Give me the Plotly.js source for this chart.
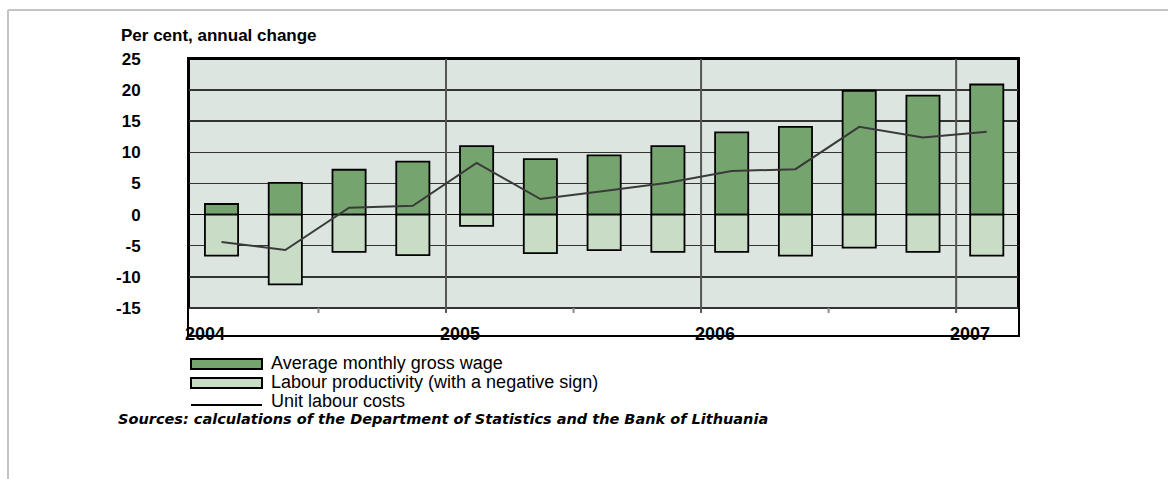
<!DOCTYPE html>
<html>
<head>
<meta charset="utf-8">
<script src="https://cdn.plot.ly/plotly-3.0.1.min.js"></script>
<style>
  html, body { margin: 0; padding: 0; background: #fff; }
  #plot { width: 1168px; height: 479px; }
</style>
</head>
<body>
<div id="plot"></div>
<script>
// quarterly data, 2004 Q1 - 2007 Q1
const quarters = ['2004 Q1', '2004 Q2', '2004 Q3', '2004 Q4',
                  '2005 Q1', '2005 Q2', '2005 Q3', '2005 Q4',
                  '2006 Q1', '2006 Q2', '2006 Q3', '2006 Q4',
                  '2007 Q1'];
const wage = [1.7, 5.1, 7.2, 8.5, 11.0, 8.9, 9.5, 11.0, 13.2, 14.1, 19.9, 19.1, 20.9];
const productivity = [-6.6, -11.2, -6.0, -6.5, -1.8, -6.2, -5.7, -6.0, -6.0, -6.6, -5.3, -6.0, -6.6];
const unitLabourCosts = [-4.4, -5.7, 1.1, 1.4, 8.3, 2.5, 3.8, 5.1, 7.0, 7.3, 14.1, 12.4, 13.3];

const years = ['2004', '2005', '2006', '2007'];
const yTicks = [-15, -10, -5, 0, 5, 10, 15, 20, 25];
const legendNames = ['Average monthly gross wage',
                     'Labour productivity (with a negative sign)',
                     'Unit labour costs'];

const darkGreen = '#76a46e';
const lightGreen = '#c9dcc5';
const font = 'Liberation Sans, Arial, sans-serif';

// bar positions: quarter index, centred in each quarter
const xPos = quarters.map((q, i) => i + 0.48);

// plot area in pixels (for placing the hand drawn legend)
const L = 189, R = 150, T = 59, B = 144, W = 1168, H = 479;
const pw = W - L - R, ph = H - T - B;
const px = p => (p - L) / pw;
const py = p => (H - B - p) / ph;

const traces = [
  {
    x: xPos, y: wage, type: 'bar', name: legendNames[0],
    marker: { color: darkGreen, line: { color: '#000', width: 1.8 } },
    hoverinfo: 'y'
  },
  {
    x: xPos, y: productivity, type: 'bar', name: legendNames[1],
    marker: { color: lightGreen, line: { color: '#000', width: 1.8 } },
    hoverinfo: 'y'
  },
  {
    x: xPos, y: unitLabourCosts, type: 'scatter', mode: 'lines', name: legendNames[2],
    line: { color: '#3a3a3a', width: 2 }
  }
];

const shapes = [
  // shaded plot region
  { type: 'rect', xref: 'paper', yref: 'y', x0: 0, x1: 1, y0: -15, y1: 25,
    fillcolor: '#dde5e0', line: { color: '#000', width: 2 }, layer: 'below' },
  // outer frame of the picture
  { type: 'line', xref: 'paper', yref: 'paper', x0: px(8), x1: px(1168), y0: py(10), y1: py(10),
    line: { color: '#c4c4c4', width: 2 } },
  { type: 'line', xref: 'paper', yref: 'paper', x0: px(8), x1: px(8), y0: py(10), y1: py(479),
    line: { color: '#c4c4c4', width: 2 } }
];

// year separators and half-year ticks
years.forEach((y, i) => {
  if (i > 0) {
    shapes.push({ type: 'line', xref: 'x', yref: 'y', x0: i * 4, x1: i * 4, y0: -15.8, y1: 25,
      line: { color: '#555', width: 2 }, layer: 'between' });
  }
  if (i < years.length - 1) {
    shapes.push({ type: 'line', xref: 'x', yref: 'y', x0: i * 4 + 2, x1: i * 4 + 2, y0: -15.8, y1: -15,
      line: { color: '#888', width: 2 } });
  }
});

// legend swatches
const rowY = [363, 382, 401];
shapes.push({ type: 'rect', xref: 'paper', yref: 'paper', x0: px(191), x1: px(262), y0: py(359), y1: py(369),
  fillcolor: darkGreen, line: { color: '#000', width: 2 } });
shapes.push({ type: 'rect', xref: 'paper', yref: 'paper', x0: px(191), x1: px(262), y0: py(378), y1: py(388),
  fillcolor: lightGreen, line: { color: '#000', width: 2 } });
shapes.push({ type: 'line', xref: 'paper', yref: 'paper', x0: px(191), x1: px(262), y0: py(405), y1: py(405),
  line: { color: '#000', width: 2 } });

const annotations = [
  { text: '<b>Per cent, annual change</b>', xref: 'paper', yref: 'paper', x: px(119), y: py(35),
    xanchor: 'left', yanchor: 'middle', showarrow: false, font: { size: 17, color: '#000' } },
  { text: '<b><i>Sources: calculations of the Department of Statistics and the Bank of Lithuania</i></b>',
    xref: 'paper', yref: 'paper', x: px(116), y: py(419),
    xanchor: 'left', yanchor: 'middle', showarrow: false,
    font: { family: 'DejaVu Sans, sans-serif', size: 14.5, color: '#000' } }
];

legendNames.forEach((n, i) => {
  annotations.push({ text: n, xref: 'paper', yref: 'paper', x: px(269), y: py(rowY[i]),
    xanchor: 'left', yanchor: 'middle', showarrow: false, font: { size: 18, color: '#000' } });
});

years.forEach((y, i) => {
  annotations.push({ text: '<b>' + y + '</b>', xref: 'x', yref: 'paper', x: i * 4, y: 0,
    xshift: 14, yshift: 1, xanchor: 'center', yanchor: 'middle', showarrow: false,
    font: { size: 18, color: '#000' } });
});

const layout = {
  width: W, height: H,
  margin: { l: L, r: R, t: T, b: B },
  paper_bgcolor: '#fff',
  plot_bgcolor: '#fff',
  font: { family: font, size: 15, color: '#000' },
  barmode: 'relative',
  bargap: 0.48,
  showlegend: false,
  xaxis: {
    range: [-0.03, 12.97],
    showgrid: false, zeroline: false,
    showticklabels: false, ticks: '',
    showline: true, linecolor: '#000', linewidth: 2, mirror: true
  },
  yaxis: {
    range: [-19.35, 25],
    tickvals: yTicks,
    ticktext: yTicks.map(v => '<b>' + v + '</b>'),
    ticks: '',
    ticklabelstandoff: 43,
    tickfont: { size: 17 },
    showgrid: true, gridcolor: '#333', gridwidth: 1.5,
    zeroline: true, zerolinecolor: '#000', zerolinewidth: 1.5,
    showline: true, linecolor: '#000', linewidth: 2, mirror: true
  },
  shapes: shapes,
  annotations: annotations
};

Plotly.newPlot('plot', traces, layout, { displayModeBar: false, staticPlot: true });
</script>
</body>
</html>
